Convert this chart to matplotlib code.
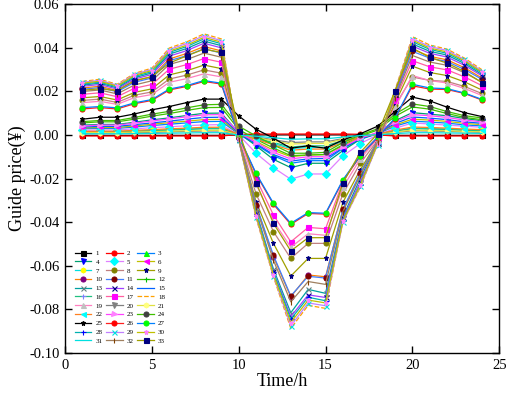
import matplotlib
matplotlib.use("Agg")
import matplotlib.pyplot as plt
from matplotlib.ticker import FormatStrFormatter

plt.rcParams['font.family'] = ['Liberation Serif', 'DejaVu Serif']
plt.rcParams['axes.unicode_minus'] = False

hours = list(range(1, 25))

s1 = [-0.0002, -0.0002, -0.0002, -0.0002, -0.0002, -0.0002, -0.0002, -0.0002, -0.0002, 0.0000, 0.0000, 0.0000, 0.0000, 0.0000, 0.0000, 0.0000, 0.0000, 0.0000, -0.0002, -0.0002, -0.0002, -0.0002, -0.0002, -0.0002]
s2 = [-0.0005, -0.0005, -0.0005, -0.0005, -0.0005, -0.0005, -0.0005, -0.0005, -0.0005, 0.0002, 0.0004, 0.0004, 0.0004, 0.0004, 0.0004, 0.0004, 0.0003, 0.0000, -0.0005, -0.0005, -0.0005, -0.0005, -0.0005, -0.0005]
s3 = [0.0028, 0.0030, 0.0030, 0.0036, 0.0043, 0.0049, 0.0055, 0.0061, 0.0062, 0.0004, -0.0045, -0.0095, -0.0130, -0.0118, -0.0118, -0.0062, -0.0020, 0.0005, 0.0040, 0.0063, 0.0059, 0.0054, 0.0046, 0.0041]
s4 = [0.0045, 0.0048, 0.0048, 0.0058, 0.0069, 0.0078, 0.0089, 0.0099, 0.0100, 0.0010, -0.0050, -0.0112, -0.0150, -0.0130, -0.0130, -0.0072, -0.0020, 0.0010, 0.0065, 0.0102, 0.0095, 0.0088, 0.0075, 0.0065]
s5 = [0.0021, 0.0023, 0.0023, 0.0028, 0.0033, 0.0037, 0.0042, 0.0046, 0.0047, 0.0000, -0.0084, -0.0150, -0.0203, -0.0179, -0.0179, -0.0096, -0.0040, 0.0000, 0.0030, 0.0055, 0.0050, 0.0045, 0.0040, 0.0035]
s6 = [0.0032, 0.0034, 0.0034, 0.0041, 0.0049, 0.0056, 0.0063, 0.0070, 0.0071, 0.0006, -0.0030, -0.0070, -0.0100, -0.0092, -0.0090, -0.0050, -0.0012, 0.0008, 0.0045, 0.0072, 0.0068, 0.0062, 0.0053, 0.0047]
s7 = [0.0014, 0.0015, 0.0015, 0.0018, 0.0021, 0.0024, 0.0027, 0.0030, 0.0030, 0.0002, -0.0018, -0.0040, -0.0062, -0.0058, -0.0058, -0.0030, -0.0008, 0.0003, 0.0019, 0.0031, 0.0029, 0.0027, 0.0023, 0.0021]
s8 = [0.0158, 0.0164, 0.0149, 0.0182, 0.0197, 0.0256, 0.0274, 0.0298, 0.0283, -0.0015, -0.0270, -0.0443, -0.0566, -0.0497, -0.0497, -0.0270, -0.0130, -0.0025, 0.0135, 0.0265, 0.0250, 0.0245, 0.0222, 0.0190]
s9 = [0.0170, 0.0176, 0.0160, 0.0195, 0.0211, 0.0275, 0.0294, 0.0320, 0.0304, -0.0020, -0.0306, -0.0497, -0.0647, -0.0566, -0.0566, -0.0309, -0.0160, -0.0030, 0.0145, 0.0315, 0.0286, 0.0272, 0.0243, 0.0206]
s10 = [0.0215, 0.0223, 0.0203, 0.0247, 0.0267, 0.0348, 0.0373, 0.0405, 0.0385, -0.0015, -0.0325, -0.0558, -0.0742, -0.0642, -0.0650, -0.0344, -0.0180, -0.0030, 0.0180, 0.0393, 0.0360, 0.0344, 0.0308, 0.0261]
s11 = [0.0209, 0.0217, 0.0198, 0.0241, 0.0261, 0.0340, 0.0363, 0.0395, 0.0375, -0.0016, -0.0320, -0.0552, -0.0738, -0.0648, -0.0656, -0.0340, -0.0175, -0.0028, 0.0176, 0.0383, 0.0352, 0.0336, 0.0300, 0.0255]
s12 = [0.0055, 0.0060, 0.0060, 0.0072, 0.0086, 0.0098, 0.0112, 0.0125, 0.0126, 0.0025, -0.0020, -0.0060, -0.0095, -0.0092, -0.0090, -0.0045, -0.0005, 0.0022, 0.0085, 0.0128, 0.0118, 0.0098, 0.0080, 0.0070]
s13 = [0.0228, 0.0237, 0.0215, 0.0262, 0.0284, 0.0370, 0.0396, 0.0430, 0.0409, -0.0018, -0.0350, -0.0615, -0.0815, -0.0708, -0.0726, -0.0375, -0.0200, -0.0035, 0.0190, 0.0417, 0.0383, 0.0366, 0.0327, 0.0277]
s14 = [0.0223, 0.0231, 0.0210, 0.0256, 0.0277, 0.0361, 0.0386, 0.0420, 0.0399, -0.0020, -0.0358, -0.0625, -0.0833, -0.0733, -0.0745, -0.0383, -0.0215, -0.0038, 0.0186, 0.0407, 0.0374, 0.0357, 0.0319, 0.0271]
s15 = [0.0036, 0.0039, 0.0039, 0.0047, 0.0055, 0.0063, 0.0072, 0.0080, 0.0081, 0.0008, -0.0040, -0.0090, -0.0120, -0.0110, -0.0108, -0.0060, -0.0018, 0.0008, 0.0052, 0.0082, 0.0077, 0.0070, 0.0060, 0.0053]
s16 = [0.0013, 0.0014, 0.0014, 0.0017, 0.0019, 0.0022, 0.0025, 0.0028, 0.0028, 0.0002, -0.0015, -0.0035, -0.0055, -0.0050, -0.0050, -0.0026, -0.0007, 0.0003, 0.0017, 0.0029, 0.0027, 0.0025, 0.0021, 0.0019]
s17 = [0.0186, 0.0193, 0.0175, 0.0214, 0.0231, 0.0301, 0.0322, 0.0350, 0.0333, -0.0010, -0.0200, -0.0367, -0.0490, -0.0424, -0.0430, -0.0215, -0.0090, -0.0010, 0.0160, 0.0340, 0.0312, 0.0298, 0.0266, 0.0226]
s18 = [0.0245, 0.0255, 0.0232, 0.0282, 0.0306, 0.0398, 0.0426, 0.0463, 0.0440, -0.0020, -0.0381, -0.0650, -0.0887, -0.0781, -0.0795, -0.0395, -0.0240, -0.0040, 0.0205, 0.0450, 0.0412, 0.0393, 0.0352, 0.0299]
s19 = [0.0148, 0.0154, 0.0140, 0.0171, 0.0185, 0.0241, 0.0258, 0.0280, 0.0266, -0.0012, -0.0225, -0.0395, -0.0515, -0.0453, -0.0460, -0.0240, -0.0110, -0.0018, 0.0126, 0.0272, 0.0249, 0.0238, 0.0213, 0.0181]
s20 = [0.0008, 0.0009, 0.0009, 0.0011, 0.0012, 0.0014, 0.0016, 0.0018, 0.0018, 0.0001, -0.0010, -0.0022, -0.0035, -0.0032, -0.0032, -0.0017, -0.0005, 0.0002, 0.0011, 0.0019, 0.0018, 0.0016, 0.0014, 0.0012]
s21 = [0.0010, 0.0011, 0.0011, 0.0013, 0.0015, 0.0017, 0.0019, 0.0021, 0.0021, 0.0001, -0.0012, -0.0027, -0.0042, -0.0039, -0.0039, -0.0020, -0.0006, 0.0002, 0.0013, 0.0022, 0.0020, 0.0019, 0.0016, 0.0014]
s22 = [0.0016, 0.0017, 0.0017, 0.0021, 0.0024, 0.0028, 0.0031, 0.0035, 0.0035, 0.0003, -0.0020, -0.0045, -0.0070, -0.0065, -0.0065, -0.0035, -0.0010, 0.0004, 0.0022, 0.0036, 0.0034, 0.0031, 0.0027, 0.0024]
s23 = [0.0041, 0.0045, 0.0045, 0.0054, 0.0064, 0.0073, 0.0083, 0.0092, 0.0093, 0.0012, -0.0035, -0.0080, -0.0110, -0.0100, -0.0100, -0.0055, -0.0015, 0.0012, 0.0060, 0.0093, 0.0088, 0.0080, 0.0068, 0.0060]
s24 = [0.0061, 0.0066, 0.0066, 0.0080, 0.0095, 0.0108, 0.0124, 0.0138, 0.0140, 0.0040, -0.0005, -0.0046, -0.0084, -0.0084, -0.0080, -0.0035, 0.0000, 0.0028, 0.0095, 0.0142, 0.0130, 0.0107, 0.0088, 0.0078]
s25 = [0.0072, 0.0081, 0.0081, 0.0096, 0.0115, 0.0130, 0.0148, 0.0164, 0.0164, 0.0087, 0.0026, -0.0015, -0.0061, -0.0050, -0.0061, -0.0023, 0.0005, 0.0040, 0.0107, 0.0173, 0.0156, 0.0127, 0.0102, 0.0084]
s26 = [0.0119, 0.0125, 0.0119, 0.0143, 0.0158, 0.0206, 0.0222, 0.0245, 0.0233, -0.0005, -0.0180, -0.0318, -0.0410, -0.0360, -0.0363, -0.0210, -0.0098, -0.0012, 0.0075, 0.0225, 0.0210, 0.0208, 0.0190, 0.0160]
s27 = [0.0125, 0.0130, 0.0124, 0.0147, 0.0162, 0.0210, 0.0226, 0.0249, 0.0237, -0.0005, -0.0176, -0.0313, -0.0405, -0.0356, -0.0359, -0.0206, -0.0095, -0.0010, 0.0077, 0.0232, 0.0215, 0.0212, 0.0192, 0.0163]
s28 = [0.0233, 0.0242, 0.0220, 0.0268, 0.0290, 0.0378, 0.0405, 0.0440, 0.0418, -0.0022, -0.0363, -0.0630, -0.0845, -0.0744, -0.0760, -0.0390, -0.0228, -0.0042, 0.0195, 0.0427, 0.0392, 0.0374, 0.0334, 0.0284]
s29 = [0.0241, 0.0250, 0.0228, 0.0278, 0.0300, 0.0391, 0.0419, 0.0455, 0.0432, -0.0025, -0.0376, -0.0645, -0.0875, -0.0770, -0.0783, -0.0400, -0.0235, -0.0045, 0.0200, 0.0441, 0.0405, 0.0387, 0.0346, 0.0293]
s30 = [0.0237, 0.0246, 0.0224, 0.0273, 0.0295, 0.0384, 0.0411, 0.0447, 0.0425, -0.0020, -0.0370, -0.0640, -0.0860, -0.0757, -0.0770, -0.0395, -0.0230, -0.0040, 0.0198, 0.0434, 0.0398, 0.0380, 0.0340, 0.0288]
s31 = [0.0005, 0.0005, 0.0005, 0.0006, 0.0007, 0.0008, 0.0009, 0.0010, 0.0010, 0.0000, -0.0006, -0.0013, -0.0020, -0.0018, -0.0018, -0.0010, -0.0003, 0.0001, 0.0006, 0.0010, 0.0010, 0.0009, 0.0008, 0.0007]
s32 = [0.0199, 0.0206, 0.0188, 0.0229, 0.0248, 0.0323, 0.0345, 0.0375, 0.0356, -0.0020, -0.0330, -0.0575, -0.0765, -0.0672, -0.0685, -0.0352, -0.0185, -0.0032, 0.0169, 0.0364, 0.0334, 0.0319, 0.0285, 0.0242]
s33 = [0.0205, 0.0211, 0.0203, 0.0249, 0.0267, 0.0329, 0.0362, 0.0393, 0.0378, 0.0020, -0.0219, -0.0405, -0.0532, -0.0471, -0.0471, -0.0220, -0.0080, 0.0005, 0.0202, 0.0398, 0.0355, 0.0329, 0.0290, 0.0240]

series = [s1, s2, s3, s4, s5, s6, s7, s8, s9, s10, s11, s12, s13, s14, s15, s16,
          s17, s18, s19, s20, s21, s22, s23, s24, s25, s26, s27, s28, s29, s30, s31, s32, s33]
labels = [str(i) for i in range(1, 34)]

# (line color, marker, marker face color, linestyle)
styles = [
    ('#000000', 's', '#000000', '-'),
    ('#ff0000', 'o', '#ff0000', '-'),
    ('#0080ff', '^', '#00ff00', '-'),
    ('#00a070', 'v', '#0000ff', '-'),
    ('#e080ff', 'D', '#00ffff', '-'),
    ('#c0c000', '<', '#ff00ff', '-'),
    ('#00e0e0', 'h', '#ffff00', '-'),
    ('#c08080', 'o', '#808000', '-'),
    ('#a0a000', '*', '#000080', '-'),
    ('#ff8000', 'o', '#800080', '-'),
    ('#4080ff', 'o', '#800000', '-'),
    ('#40c000', '+', '#00c000', '-'),
    ('#00a0a0', 'x', '#608080', '-'),
    ('#a040ff', 'x', '#000080', '-'),
    ('#0060ff', None, '#0060ff', '-'),
    ('#20c080', '+', '#8080ff', '-'),
    ('#ff60a0', 's', '#ff00ff', '-'),
    ('#ffa000', None, '#ffa000', '--'),
    ('#ff80c0', '^', '#c0c0c0', '-'),
    ('#808080', 'v', '#808080', '-'),
    ('#e0e040', 'h', '#ffff80', '-'),
    ('#ff8020', '<', '#00ffff', '-'),
    ('#ff40ff', '>', '#ff80ff', '-'),
    ('#40c000', 'o', '#404040', '-'),
    ('#000000', '*', '#000000', '-'),
    ('#ff2020', 'o', '#ff0000', '-'),
    ('#0080ff', 'o', '#00ff00', '-'),
    ('#00b0b0', '+', '#0000ff', '-'),
    ('#c080ff', 'x', '#00e0e0', '-'),
    ('#c0c000', '*', '#ff80ff', '-'),
    ('#00e0e0', None, '#00e0e0', '-'),
    ('#a08060', '|', '#804000', '-'),
    ('#a0a000', 's', '#000080', '-'),
]

fig = plt.figure(figsize=(5.12, 3.99), dpi=100)
ax = fig.add_axes([0.127, 0.115, 0.848, 0.875])

handles = []
for vals, lab, (lc, mk, mfc, ls) in zip(series, labels, styles):
    h, = ax.plot(hours, vals, color=lc, linestyle=ls, linewidth=0.9,
                 marker=mk, markersize=3.6, markerfacecolor=mfc, markeredgecolor=mfc,
                 markeredgewidth=0.8, label=lab)
    handles.append(h)

ax.set_xlim(0, 25)
ax.set_ylim(-0.10, 0.06)
ax.set_xticks([0, 5, 10, 15, 20, 25])
ax.set_yticks([-0.10, -0.08, -0.06, -0.04, -0.02, 0.00, 0.02, 0.04, 0.06])
ax.yaxis.set_major_formatter(FormatStrFormatter('%.2f'))
ax.tick_params(direction='in', top=True, right=True, length=5, width=1,
               labelsize=10.5, pad=4)
for sp in ax.spines.values():
    sp.set_linewidth(1.0)
ax.set_xlabel('Time/h', fontsize=13, labelpad=1)
ax.set_ylabel('Guide price(¥)', fontsize=13, labelpad=2)

# row-major order in a 3-column legend
ncol = 3
order = [i for c in range(ncol) for i in range(c, len(handles), ncol)]
ax.legend([handles[i] for i in order], [labels[i] for i in order],
          loc='upper left', bbox_to_anchor=(0.022, 0.295), ncol=ncol, frameon=False,
          fontsize=5.0, labelspacing=0.42, handlelength=2.4, handletextpad=0.6,
          columnspacing=0.5, borderaxespad=0.0, borderpad=0.0)

fig.savefig('out.png', dpi=100)
